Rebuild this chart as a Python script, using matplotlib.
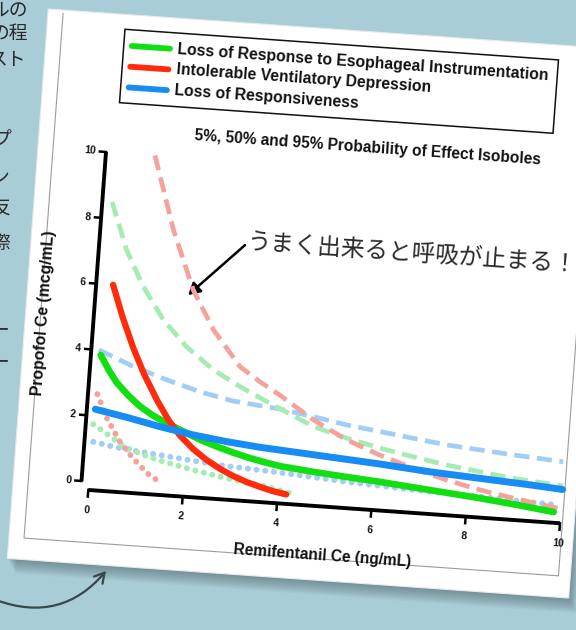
import numpy as np
import matplotlib.pyplot as plt
from matplotlib.transforms import Affine2D
from matplotlib.patches import Polygon, FancyArrowPatch

# isobole data: remifentanil Ce (ng/mL) vs propofol Ce (mcg/mL)
# loss of response to esophageal instrumentation
esoph_5_x = [0.0, 0.37, 0.70, 1.11, 1.47, 2.18, 2.90, 3.61, 4.40]
esoph_5_y = [1.74, 1.42, 1.12, 0.92, 0.78, 0.57, 0.39, 0.26, 0.04]
esoph_50_x = [0.05, 0.25, 0.43, 0.70, 0.96, 1.25, 1.55, 1.99, 2.30, 2.64, 3.00, 3.36, 3.70,
              4.02, 4.72, 5.40, 6.14, 7.20, 8.27, 9.10, 9.85]
esoph_50_y = [3.85, 3.40, 3.05, 2.68, 2.38, 2.13, 1.93, 1.67, 1.49, 1.33, 1.18, 1.05, 0.95,
              0.87, 0.77, 0.69, 0.61, 0.47, 0.33, 0.20, 0.07]
esoph_95_x = [0.05, 0.43, 0.84, 1.32, 1.85, 2.45, 3.04, 3.62, 4.65, 5.37, 6.09, 6.80, 7.52, 8.23, 8.95, 10.0]
esoph_95_y = [8.5, 7.08, 6.01, 5.04, 4.28, 3.64, 3.19, 2.80, 2.14, 1.86, 1.63, 1.44, 1.26, 1.13, 1.00, 0.88]

# intolerable ventilatory depression
vent_5_x = [0.04, 0.28, 0.59, 0.89, 1.22, 1.53]
vent_5_y = [2.66, 1.95, 1.27, 0.80, 0.37, 0.10]
vent_50_x = [0.20, 0.45, 0.72, 1.00, 1.31, 1.58, 1.85, 2.15, 2.45, 2.75, 3.04, 3.33, 3.62, 3.90, 4.18]
vent_50_y = [6.00, 5.05, 4.15, 3.35, 2.60, 2.03, 1.58, 1.20, 0.90, 0.66, 0.47, 0.32, 0.20, 0.10, 0.03]
vent_95_x = [0.88, 1.39, 1.90, 2.39, 3.01, 3.45, 3.89, 4.64, 5.37, 6.09, 6.82, 7.54, 8.26, 8.98, 9.94]
vent_95_y = [10.0, 7.78, 6.01, 4.85, 3.79, 3.38, 3.02, 2.34, 1.81, 1.42, 1.09, 0.81, 0.58, 0.40, 0.19]

# loss of responsiveness
resp_5_x = [0.03, 0.39, 0.75, 1.46, 2.17, 2.88, 3.59, 4.30, 5.44, 6.85, 8.27, 9.90]
resp_5_y = [1.21, 1.12, 1.05, 0.95, 0.85, 0.76, 0.71, 0.65, 0.54, 0.44, 0.375, 0.29]
resp_50_x = [0.02, 0.70, 1.41, 2.13, 2.84, 3.55, 4.58, 6.11, 7.18, 8.24, 9.31, 10.0]
resp_50_y = [2.20, 2.02, 1.81, 1.63, 1.50, 1.40, 1.30, 1.15, 1.02, 0.93, 0.84, 0.77]
resp_95_x = [0.0, 0.76, 1.48, 2.20, 2.92, 3.91, 4.63, 5.35, 6.06, 6.77, 7.49, 8.20, 8.91, 9.97]
resp_95_y = [4.0, 3.57, 3.24, 2.95, 2.74, 2.60, 2.44, 2.26, 2.13, 2.00, 1.87, 1.79, 1.71, 1.61]

legend_labels = ["Loss of Response to Esophageal Instrumentation",
                 "Intolerable Ventilatory Depression",
                 "Loss of Responsiveness"]
x_ticks = [0, 2, 4, 6, 8, 10]
y_ticks = [0, 2, 4, 6, 8, 10]

# slide text running off the left edge
side_text = ["ルの", "の程", "スト", "プ", "ン", "反", "際", "ー", "ー"]
side_y = [10, 33, 60, 140, 178, 208, 243, 330, 362]
side_right = [28, 28, 26, 11, 9, 10, 10, 9, 9]

note = "うまく出来ると呼吸が止まる！"

solid = {"green": "#12df12", "red": "#ff2b0c", "blue": "#168cf4"}
light = {"green": "#a6ebb2", "red": "#f5a29d", "blue": "#a2cdf4"}

W, H = 576, 630
fig = plt.figure(figsize=(W / 100, H / 100), dpi=100)
fig.patch.set_facecolor("#a9cdd7")
ax = fig.add_axes([0, 0, 1, 1])
ax.set_xlim(0, W)
ax.set_ylim(H, 0)
ax.axis("off")

# the chart sits on a tilted card: chart units -> page pixels
tilt = Affine2D(np.array([[47.17, 2.45, 88.93],
                          [3.33, -32.9, 481.5],
                          [0.0, 0.0, 1.0]]))
card = tilt + ax.transData
ang = -4.04

bold = dict(family=["Liberation Sans", "DejaVu Sans"], fontweight="bold", color="#111111")
jp = dict(family=["Noto Sans CJK JP", "DejaVu Sans"], color="#2a2a2a")

# side text from the slide underneath
for t, y, xr in zip(side_text, side_y, side_right):
    ax.text(xr, y, t, ha="right", va="center", fontsize=13.5, **jp)

# card shadow and card
card_xy = [(-1.6, -2.5), (10.3, -2.5), (10.3, 14.2), (-1.6, 14.2)]
for i in range(1, 11):
    sh = Affine2D().translate(0.8 * i, 1.5 * i)
    ax.add_patch(Polygon(card_xy, closed=True, facecolor="#34454b", edgecolor="none",
                         alpha=0.05, transform=tilt + sh + ax.transData))
ax.add_patch(Polygon(card_xy, closed=True, facecolor="white", edgecolor="#e6eaeb",
                     lw=0.8, transform=card))

# border of the pasted chart image
frame_xy = [(-1.28, 14.1), (-1.28, -1.85), (10.05, -1.85), (10.05, 14.1)]
ax.plot([p[0] for p in frame_xy], [p[1] for p in frame_xy], color="#9c9c9c",
        lw=0.8, transform=card)
clip = Polygon(frame_xy, closed=True, transform=card, facecolor="none", edgecolor="none")
ax.add_patch(clip)

# axes lines with detached spines
xa, ya = -0.1575, -0.2576
ax.plot([xa, xa], [0, 10], color="black", lw=2.8, transform=card, solid_capstyle="butt")
ax.plot([0, 10], [ya, ya], color="black", lw=2.8, transform=card, solid_capstyle="butt")
for v in y_ticks:
    ax.plot([xa - 0.13, xa], [v, v], color="black", lw=1.8, transform=card)
    ax.text(xa - 0.22, v, str(v), ha="right", va="center", fontsize=7.5,
            rotation=ang, rotation_mode="anchor", transform=card, **bold)
for v in x_ticks:
    ax.plot([v, v], [ya, ya - 0.2], color="black", lw=1.8, transform=card)
    lab = ax.text(v, -0.86, str(v), ha="center", va="center", fontsize=7.5,
                  rotation=ang, rotation_mode="anchor", transform=card, **bold)
    lab.set_clip_path(clip)

ax.text(5.03, -1.755, "Remifentanil Ce (ng/mL)", ha="center", va="center", fontsize=11.2,
        rotation=ang, rotation_mode="anchor", transform=card, **bold)
ax.text(-1.21, 5.0, "Propofol Ce (mcg/mL)", ha="center", va="center", fontsize=11.4,
        rotation=90 - 4.26, rotation_mode="anchor", transform=card, **bold)
ax.text(5.36, 10.68, "5%, 50% and 95% Probability of Effect Isoboles", ha="center",
        va="center", fontsize=11.2, rotation=ang, rotation_mode="anchor", transform=card, **bold)

# 5% isoboles (dotted)
dot = dict(lw=4.3, ls=(0, (0.01, 1.45)), dash_capstyle="round", transform=card)
ax.plot(resp_5_x, resp_5_y, color=light["blue"], **dot)
ax.plot(esoph_5_x, esoph_5_y, color=light["green"], **dot)
ax.plot(vent_5_x, vent_5_y, color=light["red"], **dot)

# 95% isoboles (dashed)
dash = dict(lw=3.4, ls=(0, (3.2, 1.6)), transform=card)
ax.plot(resp_95_x, resp_95_y, color=light["blue"], **dash)
ax.plot(esoph_95_x, esoph_95_y, color=light["green"], **dash)
ax.plot(vent_95_x, vent_95_y, color=light["red"], **dash)

# 50% isoboles (solid)
ax.plot(esoph_50_x, esoph_50_y, color=solid["green"], lw=4.8, transform=card,
        solid_capstyle="round", solid_joinstyle="round")
ax.plot(vent_50_x, vent_50_y, color=solid["red"], lw=4.5, transform=card,
        solid_capstyle="round", solid_joinstyle="round")
ax.plot(resp_50_x, resp_50_y, color=solid["blue"], lw=5.0, transform=card,
        solid_capstyle="round", solid_joinstyle="round")

# legend box
ax.add_patch(Polygon([(0.05, 11.52), (9.24, 11.52), (9.24, 13.75), (0.05, 13.75)], closed=True,
                     facecolor="white", edgecolor="#111111", lw=1.1, transform=card))
for i, (lab, key) in enumerate(zip(legend_labels, ["green", "red", "blue"])):
    yy = 13.26 - 0.63 * i
    ax.plot([0.22, 1.03], [yy, yy], color=solid[key], lw=4.2, transform=card, solid_capstyle="round")
    ax.text(1.2, yy, lab, ha="left", va="center", fontsize=11.3, rotation=ang,
            rotation_mode="anchor", transform=card, **bold)

# callout
ax.text(2.96, 7.55, note, ha="left", va="center", fontsize=17.0, rotation=ang,
        rotation_mode="anchor", transform=card, **jp)
ax.add_patch(FancyArrowPatch((2.92, 7.48), (1.80, 5.85), transform=card,
                             arrowstyle="-|>,head_length=7,head_width=4",
                             color="black", lw=1.8, shrinkA=0, shrinkB=0))

# hand drawn arrow pointing up at the card
ax.add_patch(FancyArrowPatch((-4, 600), (106, 571), connectionstyle="arc3,rad=0.35",
                             arrowstyle="->,head_length=7,head_width=4",
                             color="#37474c", lw=1.6, shrinkA=0, shrinkB=0))

fig.savefig("out.png", dpi=100, facecolor=fig.get_facecolor())
